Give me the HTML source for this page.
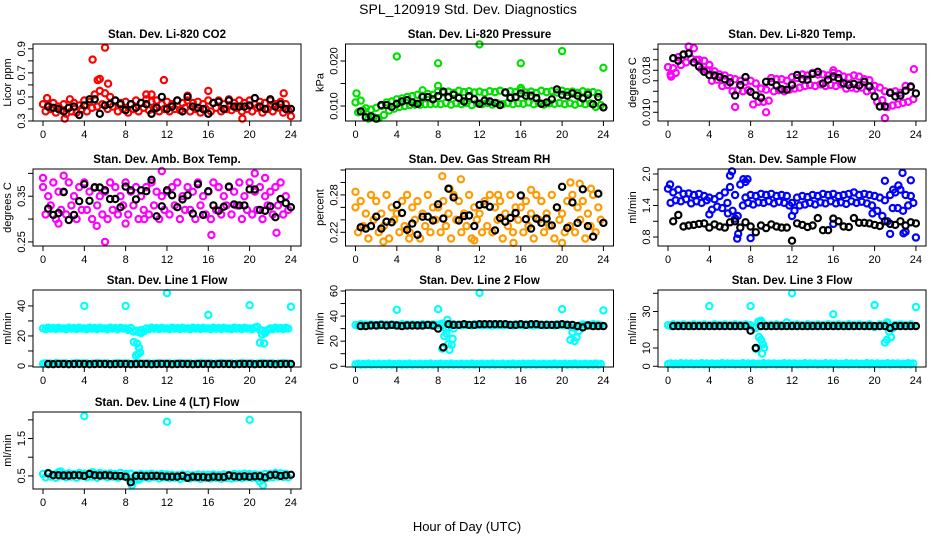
<!DOCTYPE html>
<html><head><meta charset="utf-8"><title>SPL_120919 Std. Dev. Diagnostics</title>
<style>
html,body{margin:0;padding:0;background:#fff;}
svg{display:block;font-family:"Liberation Sans",sans-serif;}
</style></head>
<body>
<svg id="chart" width="936" height="540" viewBox="0 0 936 540" xmlns="http://www.w3.org/2000/svg">
<rect x="0" y="0" width="936" height="540" fill="#fff"/>
<text x="468" y="14" text-anchor="middle" font-size="14">SPL_120919  Std. Dev. Diagnostics</text>
<text x="467" y="531" text-anchor="middle" font-size="13">Hour of Day (UTC)</text>
</svg>
<script>
// ---------- data ----------
const xTicks = [0,4,8,12,16,20,24];

const co2Band = [.44,.38,.43,.40,.45,.37,.42,.39,.44,.36,.41,.38,.45,.37,.43,.40,.47,.38,.46,.41,.52,.42,.55,.44,.53,.40,.50,.42,.47,.38,.45,.40,.46,.37,.44,.40,.47,.38,.45,.41,.48,.39,.46,.40,.47,.38,.44,.40,.46,.38,.44,.40,.47,.39,.45,.41,.47,.38,.45,.40,.46,.37,.44,.40,.47,.38,.45,.41,.47,.38,.44,.40,.48,.39,.45,.41,.47,.38,.45,.40,.47,.38,.44,.41,.46,.37,.45,.40,.47,.38,.44,.41,.46,.37,.44,.39];
const co2Black = [.42,.41,.40,.38,.41,.42,.35,.43,.48,.48,.36,.43,.44,.47,.44,.39,.44,.41,.45,.44,.36,.41,.50,.40,.42,.47,.38,.50,.42,.41,.40,.36,.45,.46,.40,.47,.42,.42,.42,.43,.49,.42,.40,.48,.42,.44,.40,.40];
const co2OutX = [4.8,6.0,5.3,5.5,6.3,11.7,16,2.1,19.3,23.3,10,10.5,2.6,0.4,14,24];
const co2OutY = [.81,.91,.64,.65,.61,.64,.55,.32,.32,.53,.52,.52,.48,.49,.51,.34];

const presBand = [.0108,.0086,.0112,.0090,.0095,.0072,.0092,.0075,.0096,.0073,.0100,.0080,.0108,.0090,.0110,.0094,.0115,.0098,.0117,.0100,.0120,.0102,.0122,.0103,.0125,.0103,.0123,.0104,.0127,.0104,.0125,.0105,.0133,.0104,.0130,.0107,.0132,.0103,.0129,.0106,.0134,.0104,.0131,.0107,.0133,.0102,.0130,.0106,.0132,.0104,.0129,.0107,.0133,.0103,.0131,.0106,.0134,.0104,.0130,.0107,.0133,.0104,.0131,.0106,.0135,.0105,.0130,.0108,.0132,.0104,.0129,.0107,.0134,.0103,.0131,.0106,.0133,.0105,.0130,.0107,.0134,.0104,.0131,.0106,.0132,.0103,.0129,.0107,.0133,.0104,.0130,.0106,.0131,.0098,.0128,.0102];
const presBlack = [.0088,.0075,.0077,.0072,.0102,.0102,.0098,.0105,.0110,.0113,.0108,.0105,.0120,.0120,.0115,.0122,.0132,.0120,.0125,.0118,.0110,.0122,.0115,.0105,.0112,.0110,.0107,.0102,.0130,.0118,.0120,.0128,.0123,.0123,.0118,.0105,.0108,.0115,.0137,.0125,.0123,.0128,.0123,.0117,.0125,.0104,.0120,.0097];
const presOutX = [0.1,4,8,12,16,20,24,6.5,8,16];
const presOutY = [.0128,.0210,.0195,.0237,.0195,.0222,.0185,.0135,.0145,.0140];

const tempBand = [.0186,.0172,.0184,.0175,.0205,.0190,.0210,.0195,.0225,.0202,.0222,.0200,.0200,.0182,.0198,.0180,.0180,.0160,.0178,.0162,.0172,.0150,.0170,.0152,.0165,.0140,.0163,.0142,.0160,.0140,.0158,.0142,.0160,.0115,.0155,.0120,.0145,.0120,.0143,.0122,.0165,.0140,.0163,.0142,.0163,.0140,.0160,.0143,.0167,.0145,.0165,.0147,.0172,.0150,.0170,.0152,.0175,.0150,.0172,.0153,.0172,.0150,.0170,.0152,.0175,.0150,.0173,.0153,.0168,.0145,.0166,.0147,.0170,.0145,.0168,.0147,.0163,.0140,.0161,.0142,.0150,.0120,.0147,.0123,.0140,.0110,.0138,.0113,.0140,.0115,.0137,.0118,.0150,.0120,.0148,.0125];
const tempBlack = [.0203,.0198,.0210,.0212,.0195,.0187,.0177,.0171,.0170,.0167,.0163,.0157,.0132,.0152,.0167,.0139,.0132,.0128,.0158,.0158,.0151,.0144,.0143,.0152,.0171,.0163,.0162,.0173,.0177,.0155,.0162,.0168,.0165,.0155,.0152,.0154,.0151,.0158,.0149,.0130,.0111,.0111,.0137,.0130,.0132,.0141,.0149,.0136];
const tempOutX = [9.5,21,6.5,4,0.3,16,23.8];
const tempOutY = [.0100,.0089,.0110,.0190,.0168,.0180,.0182];

const ambBand = [.37,.31,.35,.33,.38,.30,.36,.32,.36,.31,.38,.33,.35,.30,.37,.32,.38,.32,.36,.30,.37,.33,.35,.31,.36,.30,.38,.32,.37,.31,.35,.33,.38,.31,.36,.33,.37,.30,.35,.32,.37,.31,.38,.33,.36,.30,.35,.32,.36,.31,.37,.33,.38,.30,.35,.32,.37,.32,.36,.30,.38,.33,.35,.31,.36,.30,.38,.32,.37,.31,.35,.33,.37,.31,.36,.33,.38,.30,.35,.32,.38,.31,.36,.32,.37,.30,.35,.33,.36,.31,.37,.33,.38,.31,.35,.32];
const ambBlack = [.323,.309,.313,.359,.298,.309,.339,.376,.340,.369,.369,.363,.344,.344,.326,.371,.363,.343,.363,.361,.386,.306,.328,.363,.352,.326,.343,.352,.312,.376,.309,.361,.330,.318,.327,.371,.332,.330,.330,.365,.365,.320,.318,.328,.304,.344,.335,.326];
const ambOutX = [6,16.3,22.6,5.2,8,0,2,11.5,20.5,21.5,17,1.5,9.8];
const ambOutY = [.25,.265,.27,.285,.29,.39,.395,.405,.40,.39,.37,.29,.30];

const rhBand = [.26,.22,.27,.23,.25,.21,.28,.24,.27,.22,.25,.23,.28,.21,.26,.24,.25,.22,.27,.23,.28,.22,.26,.24,.27,.21,.25,.23,.28,.22,.26,.24,.26,.22,.27,.23,.25,.21,.28,.24,.27,.22,.25,.23,.28,.21,.26,.24,.25,.22,.27,.23,.28,.22,.26,.24,.27,.21,.25,.23,.28,.22,.26,.24,.26,.22,.27,.23,.25,.21,.28,.24,.27,.22,.25,.23,.28,.21,.26,.24,.25,.22,.27,.23,.28,.22,.26,.24,.27,.21,.25,.23,.28,.22,.26,.24];
const rhBlack = [.228,.226,.230,.245,.226,.237,.236,.264,.251,.224,.234,.216,.245,.245,.239,.265,.242,.290,.276,.239,.246,.247,.230,.264,.265,.261,.223,.243,.237,.243,.251,.279,.241,.226,.242,.235,.242,.231,.260,.293,.227,.268,.235,.289,.230,.213,.282,.235];
const rhOutX = [8.4,10.2,20.8,21.7,2.7,11.5,15.3,20,0,9.1,13.8,17,22.8,5.2];
const rhOutY = [.31,.305,.30,.298,.205,.207,.203,.203,.285,.29,.28,.288,.29,.21];

const flowBand = [1.72,1.45,1.65,1.50,1.70,1.48,1.62,1.52,1.63,1.44,1.60,1.48,1.62,1.45,1.58,1.50,1.55,1.32,1.52,1.38,1.58,1.35,1.65,1.45,1.75,1.30,1.60,1.20,1.80,1.40,1.55,1.45,1.60,1.42,1.58,1.46,1.62,1.45,1.60,1.48,1.62,1.44,1.58,1.47,1.60,1.45,1.58,1.40,1.45,1.30,1.55,1.40,1.58,1.42,1.56,1.45,1.60,1.42,1.58,1.46,1.62,1.44,1.60,1.48,1.62,1.44,1.58,1.46,1.60,1.43,1.62,1.48,1.65,1.45,1.60,1.47,1.62,1.44,1.60,1.40,1.58,1.30,1.55,1.20,1.50,1.10,1.60,1.35,1.65,1.35,1.70,1.30,1.60,1.40,1.58,1.45];
const flowBlack = [1.10,1.22,1.00,1.02,1.03,1.05,1.06,0.98,1.04,1.00,0.98,1.08,1.10,0.98,1.08,1.00,0.89,1.02,0.97,1.04,1.00,0.98,0.98,0.73,1.06,1.03,0.99,1.02,1.16,0.93,0.93,1.15,1.10,1.00,0.99,1.16,1.07,1.07,1.06,1.03,1.01,1.10,1.05,1.03,1.10,1.02,1.08,1.06];
const flowOutX = [6.2,6,6.7,6.8,7.5,7.3,7.7,8,5.8,6.5,21.5,21.8,22.3,22.7,22.8,23,23.5,24,21,19.8,4,12,16,0.2];
const flowOutY = [2.05,1.97,0.77,0.86,1.85,1.90,1.90,0.78,1.25,1.15,0.86,1.70,1.78,2.02,0.87,0.90,1.88,0.79,1.87,1.25,1.23,1.20,1.05,1.80];

const l1High = [25,24.5,25.5,24.8,25.2,24.6,25.4,24.9,25,24.5,25.5,24.8,25.2,24.6,25.4,24.9,25,24.5,25.5,24.8,25.2,24.6,25.4,24.9,25,24.5,25.5,24.8,25.2,24.6,25.4,24.9,25,24,25.3,23,23.5,22.5,24,23,25,24.5,25.5,24.8,25.2,24.6,25.4,24.9,25,24.5,25.5,24.8,25.2,24.6,25.4,24.9,25,24.5,25.5,24.8,25.2,24.6,25.4,24.9,25,24.5,25.5,24.8,25.2,24.6,25.4,24.9,25,24.5,25.5,24.8,25.2,24.6,25.4,24.9,25,24.5,25.5,26,24,23.5,22.5,24,25,24.5,25.5,24.8,25.2,24.6,25.4,24.9];
const l1Low = [1.5,1.8,1.2,1.6,1.4,1.9,1.3,1.7,1.5,1.8,1.2,1.6,1.4,1.9,1.3,1.7,1.5,1.8,1.2,1.6,1.4,1.9,1.3,1.7,1.5,1.8,1.2,1.6,1.4,1.9,1.3,1.7,1.5,1.8,1.2,1.6,1.4,1.9,1.3,1.7,1.5,1.8,1.2,1.6,1.4,1.9,1.3,1.7,1.5,1.8,1.2,1.6,1.4,1.9,1.3,1.7,1.5,1.8,1.2,1.6,1.4,1.9,1.3,1.7,1.5,1.8,1.2,1.6,1.4,1.9,1.3,1.7,1.5,1.8,1.2,1.6,1.4,1.9,1.3,1.7,1.5,1.8,1.2,1.6,1.4,1.9,1.3,1.7,1.5,1.8,1.2,1.6,1.4,1.9,1.3,1.7];
const l1Black = [1.3,1.2,1.4,1.3,1.2,1.3,1.4,1.3,1.2,1.3,1.4,1.3,1.2,1.3,1.4,1.3,1.2,1.3,1.4,1.3,1.2,1.3,1.4,1.3,1.2,1.3,1.4,1.3,1.2,1.3,1.4,1.3,1.2,1.3,1.4,1.3,1.2,1.3,1.4,1.3,1.2,1.3,1.4,1.3,1.2,1.3,1.4,1.3];
const l1OutX = [4,8,12,16,20,24,8.8,9.1,9.3,9.2,9.0,9.4,21,21.2,21.4,9.5,21.5];
const l1OutY = [40,40,48.5,34,40.5,39.5,16,15,12,8,7,9,15.5,21,15,22,22];

const l2High = [33,32.5,33.5,32.8,33.2,32.6,33.4,32.9,33,32.5,33.5,32.8,33.2,32.6,33.4,32.9,33,32.5,33.5,32.8,33.2,32.6,33.4,32.9,33,32.5,33.5,32.8,33.2,32.6,33.4,32.9,33,33.5,34,30,31,32.5,33.5,33,33.2,32.6,33.4,32.9,33,32.5,33.5,32.8,33.2,32.6,33.4,32.9,33,32.5,33.5,32.8,33.2,32.6,33.4,32.9,33,32.5,33.5,32.8,33.2,32.6,33.4,32.9,33,32.5,33.5,32.8,33.2,32.6,33.4,32.9,33,32.5,33.5,32.8,33.2,32.6,33.4,32,31,30.5,31.5,32.6,33.4,32.9,33,32.5,33.5,32.8,33.2,32.6];
const l2Low = [1.5,2,1.2,1.8,1.4,2.1,1.3,1.7,1.5,2,1.2,1.8,1.4,2.1,1.3,1.7,1.5,2,1.2,1.8,1.4,2.1,1.3,1.7,1.5,2,1.2,1.8,1.4,2.1,1.3,1.7,1.5,2,1.2,1.8,1.4,2.1,1.3,1.7,1.5,2,1.2,1.8,1.4,2.1,1.3,1.7,1.5,2,1.2,1.8,1.4,2.1,1.3,1.7,1.5,2,1.2,1.8,1.4,2.1,1.3,1.7,1.5,2,1.2,1.8,1.4,2.1,1.3,1.7,1.5,2,1.2,1.8,1.4,2.1,1.3,1.7,1.5,2,1.2,1.8,1.4,2.1,1.3,1.7,1.5,2,1.2,1.8,1.4,2.1,1.3,1.7];
const l2Black = [32,32,32.5,32.5,33,32.5,33,32.5,32,32.5,32.5,32.5,32.5,33,32.5,30,15,33.5,33,33,33.5,33,33,33.5,33.5,33.5,33.5,33.5,33.5,33,33,33.5,33,33.5,33.5,33,33,33,33,33.5,33,33,32,31,32.5,32,32,32];
const l2OutX = [4,8,12,20,24,8.4,8.6,8.8,8.9,9,9.1,9.3,9.4,9.5,20.8,21,21.2,21.4,21.6];
const l2OutY = [45,45.5,58.5,45.5,44.5,14,24,26,37,18,13,17,22,30,21,27,20,23,28];

const l3High = [22.5,22,23,22.3,22.7,22.1,22.9,22.4,22.5,22,23,22.3,22.7,22.1,22.9,22.4,22.5,22,23,22.3,22.7,22.1,22.9,22.4,22.5,22,23,22.3,22.7,22.1,22.9,22.4,22.5,21.5,21,24.5,25,23,22,22.3,22.7,22.1,22.9,22.4,22.5,22,24,22.3,22.7,22.1,22.9,22.4,22.5,22,23,22.3,22.7,22.1,22.9,22.4,22.5,22,23,22.3,22.7,22.1,22.9,22.4,22.5,22,23,22.3,22.7,22.1,22.9,22.4,22.5,22,23,22.3,21.5,22.1,22.9,22.4,23,24,22,21,22.7,22.1,22.9,22.4,22.5,22,23,22.3];
const l3Low = [1.2,1.6,1,1.4,1.1,1.7,1,1.5,1.2,1.6,1,1.4,1.1,1.7,1,1.5,1.2,1.6,1,1.4,1.1,1.7,1,1.5,1.2,1.6,1,1.4,1.1,1.7,1,1.5,1.2,1.6,1,1.4,1.1,1.7,1,1.5,1.2,1.6,1,1.4,1.1,1.7,1,1.5,1.2,1.6,1,1.4,1.1,1.7,1,1.5,1.2,1.6,1,1.4,1.1,1.7,1,1.5,1.2,1.6,1,1.4,1.1,1.7,1,1.5,1.2,1.6,1,1.4,1.1,1.7,1,1.5,1.2,1.6,1,1.4,1.1,1.7,1,1.5,1.2,1.6,1,1.4,1.1,1.7,1,1.5];
const l3Black = [22,22,22,22,22,22,22,22,22,22,22,22,22,22,22,19.5,10,22,22,22,22,22,22,22,22,22,22,22,22,22,22,22,22,22,22,22,22,22,22,22,22,22,21,22,22,22,22,22];
const l3OutX = [4,8,12,16,20,24,8.5,8.8,9,9.1,9.2,9.3,9.0,21,21.2,21.4,21.6,21.2];
const l3OutY = [33,33,40,28.5,33.5,32.5,9.5,16,14.5,7,12,10,24,13,14.5,19,16,24];

const l4Band = [.55,.46,.58,.48,.54,.45,.60,.49,.56,.46,.57,.48,.55,.45,.58,.49,.56,.46,.57,.48,.54,.45,.58,.49,.56,.46,.57,.48,.55,.45,.58,.49,.55,.44,.56,.45,.53,.43,.55,.46,.54,.44,.56,.47,.53,.43,.55,.46,.54,.44,.53,.45,.52,.42,.54,.44,.53,.43,.52,.45,.54,.42,.53,.44,.53,.43,.54,.45,.52,.42,.54,.44,.53,.43,.55,.45,.54,.44,.56,.46,.55,.45,.54,.44,.53,.42,.55,.45,.56,.46,.58,.48,.57,.47,.56,.46];
const l4Black = [.57,.52,.52,.51,.51,.52,.52,.50,.55,.52,.51,.52,.51,.50,.50,.48,.33,.50,.50,.49,.50,.50,.49,.48,.48,.48,.50,.45,.48,.47,.47,.46,.48,.47,.47,.51,.49,.48,.49,.48,.49,.49,.46,.52,.53,.50,.52,.53];
const l4OutX = [4,12,20,8.6,8.9,21,21.3,1.7,4.8,9.3];
const l4OutY = [2.1,1.95,2.0,0.25,0.38,0.35,0.25,0.62,0.60,0.40];

// ---------- drawing ----------
const NS = 'http://www.w3.org/2000/svg';
const svg = document.getElementById('chart');
const hFine = co2Band.map((v,i)=>i*0.25);
const hCoarse = co2Black.map((v,i)=>(i+1)*0.5);

function mk(tag, attrs, parent){
  const e = document.createElementNS(NS, tag);
  for (const k in attrs) e.setAttribute(k, attrs[k]);
  (parent||svg).appendChild(e);
  return e;
}

const panels = [
 {key:'co2', col:0,row:0,title:'Stan. Dev. Li-820 CO2',ylab:'Licor ppm',dom:[0.3,0.94],ticks:[.3,.4,.5,.6,.7,.8,.9],labels:['0.3','0.5','0.7','0.9'],lv:[.3,.5,.7,.9],
  series:[[hFine,co2Band,'#ff0000'],[co2OutX,co2OutY,'#ff0000'],[hCoarse,co2Black,'#000']]},
 {key:'pressure', col:1,row:0,title:'Stan. Dev. Li-820 Pressure',ylab:'kPa',dom:[0.00667,0.02378],ticks:[.010,.015,.020],labels:['0.010','0.020'],lv:[.010,.020],
  series:[[hFine,presBand,'#00e000'],[presOutX,presOutY,'#00e000'],[hCoarse,presBlack,'#000']]},
 {key:'temp', col:2,row:0,title:'Stan. Dev. Li-820 Temp.',ylab:'degrees C',dom:[0.00834,0.0230],ticks:[.010,.012,.014,.016,.018,.020,.022],labels:['0.010','0.018'],lv:[.010,.018],
  series:[[hFine,tempBand,'#ff00ff'],[tempOutX,tempOutY,'#ff00ff'],[hCoarse,tempBlack,'#000']]},
 {key:'amb-temp', col:0,row:1,title:'Stan. Dev. Amb. Box Temp.',ylab:'degrees C',dom:[0.241,0.4096],ticks:[.25,.30,.35,.40],labels:['0.25','0.35'],lv:[.25,.35],
  series:[[hFine,ambBand,'#ff00ff'],[ambOutX,ambOutY,'#ff00ff'],[hCoarse,ambBlack,'#000']]},
 {key:'rh', col:1,row:1,title:'Stan. Dev. Gas Stream RH',ylab:'percent',dom:[0.198,0.3216],ticks:[.22,.24,.26,.28,.30,.32],labels:['0.22','0.28'],lv:[.22,.28],
  series:[[hFine,rhBand,'#ff9a00'],[rhOutX,rhOutY,'#ff9a00'],[hCoarse,rhBlack,'#000']]},
 {key:'sample-flow', col:2,row:1,title:'Stan. Dev. Sample Flow',ylab:'ml/min',dom:[0.629,2.095],ticks:[.8,1.1,1.4,1.7,2.0],labels:['0.8','1.4','2.0'],lv:[.8,1.4,2.0],
  series:[[hFine,flowBand,'#0000ff'],[flowOutX,flowOutY,'#0000ff'],[hCoarse,flowBlack,'#000']]},
 {key:'line1', col:0,row:2,title:'Stan. Dev. Line 1 Flow',ylab:'ml/min',dom:[-0.67,50.6],ticks:[0,10,20,30,40],labels:['0','20','40'],lv:[0,20,40],
  series:[[hFine,l1High,'#00ffff'],[hFine,l1Low,'#00ffff'],[l1OutX,l1OutY,'#00ffff'],[hCoarse,l1Black,'#000']]},
 {key:'line2', col:1,row:2,title:'Stan. Dev. Line 2 Flow',ylab:'ml/min',dom:[-0.6,60.8],ticks:[0,10,20,30,40,50,60],labels:['0','20','40','60'],lv:[0,20,40,60],
  series:[[hFine,l2High,'#00ffff'],[hFine,l2Low,'#00ffff'],[l2OutX,l2OutY,'#00ffff'],[hCoarse,l2Black,'#000']]},
 {key:'line3', col:2,row:2,title:'Stan. Dev. Line 3 Flow',ylab:'ml/min',dom:[-0.4,41.8],ticks:[0,10,20,30,40],labels:['0','10','30'],lv:[0,10,30],
  series:[[hFine,l3High,'#00ffff'],[hFine,l3Low,'#00ffff'],[l3OutX,l3OutY,'#00ffff'],[hCoarse,l3Black,'#000']]},
 {key:'line4', col:0,row:3,title:'Stan. Dev. Line 4 (LT) Flow',ylab:'ml/min',dom:[0.15,2.21],ticks:[.5,1.0,1.5,2.0],labels:['0.5','1.5'],lv:[.5,1.5],
  series:[[hFine,l4Band,'#00ffff'],[l4OutX,l4OutY,'#00ffff'],[hCoarse,l4Black,'#000']]}
];

const rowTops = [44,169,290,412];
const boxH = 77, boxW = 268;

panels.forEach(p=>{
  const L = 33 + p.col*312.5, T = rowTops[p.row], B = T+boxH, R = L+boxW;
  const xs = h => L + 10 + h*10.33;
  const ys = v => B - (v - p.dom[0])/(p.dom[1]-p.dom[0])*boxH;
  const g = mk('g', {});
  
  
  const ttl = mk('text', {x:(L+R)/2, y:T-6, 'text-anchor':'middle', 'font-size':'11.5', 'font-weight':'bold'}, g);
  
  
  ttl.textContent = p.title;
  const yl = mk('text', {x:0, y:0, 'text-anchor':'middle', 'font-size':'11', transform:`translate(${L-22},${(T+B)/2}) rotate(-90)`}, g);
  
  
  yl.textContent = p.ylab;
  const pts = mk('g', {fill:'none', 'stroke-width':'2.2'}, g);
  
  
  p.series.forEach(s=>{
    const [hx, vy, col] = s;
    vy.forEach((v,i)=>{
      const c = mk('circle', {cx:xs(hx[i]).toFixed(1), cy:ys(v).toFixed(1), r:'3.1', stroke:col}, pts);
      
      
    });
  });
  const bx = mk('rect', {x:L, y:T, width:boxW, height:boxH, fill:'none', stroke:'#000', 'stroke-width':'1'}, g);
  
  
  const xa = mk('g', {stroke:'#000', 'stroke-width':'1'}, g);
  
  
  xTicks.forEach(t=>{
    mk('line', {x1:xs(t), x2:xs(t), y1:B, y2:B+5}, xa);
    const tl = mk('text', {x:xs(t), y:B+17, 'text-anchor':'middle', 'font-size':'11', stroke:'none', fill:'#000'}, xa);
    
    
    tl.textContent = t;
  });
  const ya = mk('g', {stroke:'#000', 'stroke-width':'1'}, g);
  
  
  p.ticks.forEach(t=>{ mk('line', {x1:L-5, x2:L, y1:ys(t), y2:ys(t)}, ya); });
  p.labels.forEach((lab,i)=>{
    const tl = mk('text', {x:0, y:0, 'text-anchor':'middle', 'font-size':'11', stroke:'none', fill:'#000', transform:`translate(${L-8},${ys(p.lv[i])}) rotate(-90)`}, ya);
    
    
    tl.textContent = lab;
  });
});
</script>
</body></html>
